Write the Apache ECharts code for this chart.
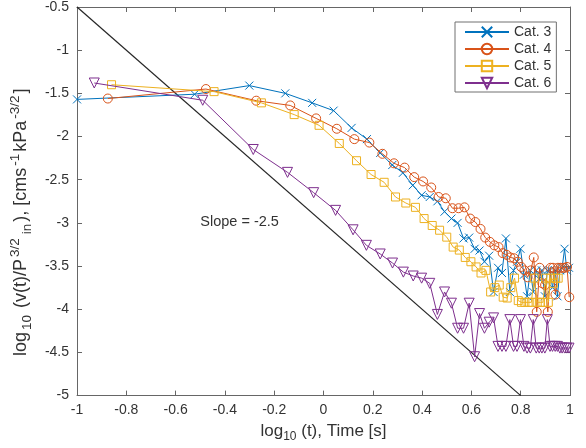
<!DOCTYPE html>
<html><head><meta charset="utf-8">
<script src="https://cdn.jsdelivr.net/npm/echarts/dist/echarts.min.js"></script>
<style>html,body{margin:0;padding:0;background:#fff}#c{width:586px;height:448px}</style>
</head><body><div id="c"></div>
<script>
// ---- data (log10 t, log10 v/P^1.5) ----
var seriesNames = ['Cat. 3', 'Cat. 4', 'Cat. 5', 'Cat. 6'];
var cat3X = [-1, -0.523, -0.301, -0.155, -0.046, 0.041, 0.114, 0.176, 0.230, 0.279, 0.322, 0.362, 0.398, 0.431, 0.462, 0.491, 0.519, 0.544, 0.568, 0.591, 0.613, 0.633, 0.653, 0.672, 0.690, 0.708, 0.724, 0.740, 0.756, 0.771, 0.785, 0.799, 0.813, 0.826, 0.839, 0.851, 0.863, 0.875, 0.886, 0.898, 0.908, 0.919, 0.929, 0.940, 0.949, 0.959, 0.968, 0.978, 0.987, 0.996];
var cat3Y = [-1.57, -1.51, -1.41, -1.50, -1.61, -1.70, -1.90, -2.03, -2.19, -2.33, -2.42, -2.565, -2.68, -2.70, -2.75, -2.87, -2.95, -3.00, -3.18, -3.17, -3.30, -3.32, -3.45, -3.38, -3.80, -3.52, -3.58, -3.18, -3.80, -3.55, -3.45, -3.30, -3.60, -3.85, -3.55, -3.80, -3.55, -3.65, -3.55, -3.85, -3.55, -3.55, -3.75, -3.55, -3.85, -3.55, -3.52, -3.30, -3.55, -3.52];
var cat4X = [-0.875, -0.477, -0.273, -0.135, -0.030, 0.054, 0.125, 0.186, 0.239, 0.286, 0.329, 0.368, 0.404, 0.437, 0.467, 0.496, 0.523, 0.548, 0.572, 0.595, 0.616, 0.637, 0.656, 0.675, 0.693, 0.710, 0.727, 0.743, 0.758, 0.773, 0.788, 0.802, 0.815, 0.828, 0.841, 0.853, 0.865, 0.877, 0.888, 0.899, 0.910, 0.921, 0.931, 0.941, 0.951, 0.961, 0.970, 0.979, 0.988, 0.997];
var cat4Y = [-1.56, -1.45, -1.585, -1.64, -1.79, -1.91, -2.03, -2.07, -2.20, -2.31, -2.36, -2.47, -2.52, -2.59, -2.70, -2.715, -2.83, -2.83, -2.82, -2.95, -2.99, -3.07, -3.17, -3.22, -3.26, -3.28, -3.35, -3.37, -3.40, -3.41, -3.45, -3.51, -3.55, -3.63, -3.55, -3.40, -4.03, -3.52, -3.70, -3.72, -4.03, -3.52, -3.52, -3.83, -3.52, -3.52, -3.52, -3.52, -3.51, -3.86];
var cat5X = [-0.86, -0.444, -0.252, -0.119, -0.018, 0.064, 0.134, 0.193, 0.246, 0.292, 0.334, 0.373, 0.408, 0.441, 0.471, 0.500, 0.526, 0.551, 0.575, 0.598, 0.619, 0.639, 0.659, 0.678, 0.695, 0.713, 0.729, 0.745, 0.760, 0.775, 0.790, 0.803, 0.817, 0.830, 0.843, 0.855, 0.867, 0.879, 0.890, 0.901, 0.912, 0.922, 0.932, 0.942, 0.952];
var cat5Y = [-1.40, -1.48, -1.61, -1.746, -1.87, -2.08, -2.28, -2.44, -2.53, -2.70, -2.77, -2.82, -2.95, -3.03, -3.085, -3.165, -3.28, -3.315, -3.40, -3.45, -3.51, -3.58, -3.55, -3.80, -3.75, -3.72, -3.86, -3.87, -3.75, -3.64, -3.90, -3.92, -3.92, -3.92, -3.92, -3.64, -3.92, -3.92, -3.92, -3.64, -3.92, -3.64, -3.70, -3.64, -3.64];
var cat6X = [-0.93, -0.49, -0.285, -0.146, -0.040, 0.049, 0.120, 0.174, 0.230, 0.280, 0.324, 0.364, 0.398, 0.431, 0.462, 0.491, 0.519, 0.544, 0.568, 0.591, 0.613, 0.633, 0.653, 0.672, 0.690, 0.708, 0.724, 0.740, 0.756, 0.771, 0.785, 0.799, 0.813, 0.826, 0.839, 0.851, 0.863, 0.875, 0.886, 0.898, 0.908, 0.919, 0.929, 0.940, 0.949, 0.959, 0.968, 0.978, 0.987, 0.996];
var cat6Y = [-1.38, -1.58, -2.15, -2.415, -2.65, -2.855, -3.08, -3.26, -3.36, -3.465, -3.57, -3.615, -3.64, -3.70, -4.06, -3.80, -3.93, -4.22, -4.22, -3.93, -4.55, -4.05, -4.22, -4.15, -4.10, -4.43, -4.43, -4.43, -4.12, -4.43, -4.43, -4.12, -4.43, -4.45, -4.45, -4.12, -4.45, -4.45, -4.45, -4.45, -4.12, -4.43, -4.43, -4.43, -4.43, -4.45, -4.45, -4.45, -4.45, -4.45];
var slopeX = [-1, 0.8];
var slopeY = [-0.5, -5];
var slopeLabel = 'Slope = -2.5';
var slopeLabelAt = [-0.5, -3.0];
var xMin = -1, xMax = 1, xStep = 0.2;
var yMin = -5, yMax = -0.5, yStep = 0.5;

// ---- styling ----
var FONT = "'Liberation Sans', Arial, Helvetica, sans-serif";
var TXT = '#333333';
var AX = '#666666';
var colors = ['#0072BD', '#D95319', '#EDB120', '#7E2F8E'];
var symbols = ['path://M0,0L10,10M10,0L0,10', 'circle', 'rect', 'triangle'];
var rotates = [0, 0, 0, 180];
var sizes = [8, 9, 8, 10];
var xs = [cat3X, cat4X, cat5X, cat6X];
var ys = [cat3Y, cat4Y, cat5Y, cat6Y];

function pairs(x, y) { return x.map(function (v, i) { return [v, y[i]]; }); }

var series = seriesNames.map(function (n, i) {
  return {
    name: n, type: 'line', xAxisIndex: 0, yAxisIndex: 0,
    data: pairs(xs[i], ys[i]),
    symbol: symbols[i], symbolRotate: rotates[i], symbolSize: sizes[i],
    showAllSymbol: true,
    lineStyle: { color: colors[i], width: 1 },
    itemStyle: { color: 'rgba(255,255,255,0)', borderColor: colors[i], borderWidth: 1 },
    emphasis: { disabled: true },
    z: 3 + i
  };
});
series.unshift({
  name: 'slope', type: 'line', data: pairs(slopeX, slopeY), symbol: 'none',
  lineStyle: { color: '#262626', width: 1.2 }, emphasis: { disabled: true }, z: 2
});

var richX = {
  n: { fontSize: 17, fontFamily: FONT, color: TXT, lineHeight: 24 },
  sub: { fontSize: 12, fontFamily: FONT, color: TXT, verticalAlign: 'bottom' },
  sup: { fontSize: 12, fontFamily: FONT, color: TXT, verticalAlign: 'top' }
};
var richY = {
  n: { fontSize: 18, fontFamily: FONT, color: TXT, lineHeight: 26 },
  sub: { fontSize: 13.5, fontFamily: FONT, color: TXT, verticalAlign: 'bottom', padding: [0, 2, 0, 2] },
  sup: { fontSize: 13.5, fontFamily: FONT, color: TXT, verticalAlign: 'top', padding: [0, 2, 0, 2] }
};

var chart = echarts.init(document.getElementById('c'), null, { renderer: 'canvas' });
var axCommon = {
  type: 'value',
  axisLine: { show: true, onZero: false, lineStyle: { color: AX, width: 1 } },
  axisTick: { show: true, inside: true, length: 5, lineStyle: { color: AX } },
  splitLine: { show: false }
};
chart.setOption({
  animation: false,
  backgroundColor: '#ffffff',
  textStyle: { fontFamily: FONT },
  grid: { left: 76, right: 16, top: 6, bottom: 52, containLabel: false },
  legend: {
    data: seriesNames, orient: 'vertical', left: 455, top: 22,
    itemWidth: 44, itemHeight: 13, itemGap: 3,
    padding: [3, 5, 2, 9],
    borderColor: '#707070', borderWidth: 1, backgroundColor: '#ffffff',
    textStyle: { fontSize: 14, color: TXT, fontFamily: FONT, lineHeight: 14 },
    selectedMode: false
  },
  xAxis: [
    Object.assign({}, axCommon, {
      position: 'bottom', min: xMin, max: xMax, interval: xStep,
      axisLabel: { fontSize: 14, color: TXT, margin: 8, fontFamily: FONT },
      name: '{n|log}{sub|10}{n| (t), Time [s]}', nameLocation: 'middle', nameGap: 22,
      nameTextStyle: { rich: richX }
    }),
    Object.assign({}, axCommon, {
      position: 'top', min: xMin, max: xMax, interval: xStep, axisLabel: { show: false }
    })
  ],
  yAxis: [
    Object.assign({}, axCommon, {
      position: 'left', min: yMin, max: yMax, interval: yStep,
      axisLabel: { fontSize: 14, color: TXT, margin: 8, fontFamily: FONT },
      name: '{n|log}{sub|10}{n| (v(t)/P}{sup|3/2}{sub|in}{n|), [cms}{sup|-1}{n|kPa}{sup|-3/2}{n|]}',
      nameLocation: 'middle', nameGap: 31, nameRotate: 90,
      nameTextStyle: { rich: richY, padding: [0, 42, 0, 0] }
    }),
    Object.assign({}, axCommon, {
      position: 'right', min: yMin, max: yMax, interval: yStep, axisLabel: { show: false }
    })
  ],
  series: series
});
var p = chart.convertToPixel({ xAxisIndex: 0, yAxisIndex: 0 }, slopeLabelAt);
chart.setOption({
  graphic: [{
    type: 'text', left: p[0], top: p[1] - 8, silent: true,
    style: { text: slopeLabel, fontSize: 14.5, fontFamily: FONT, fill: TXT }
  }]
});
</script></body></html>
